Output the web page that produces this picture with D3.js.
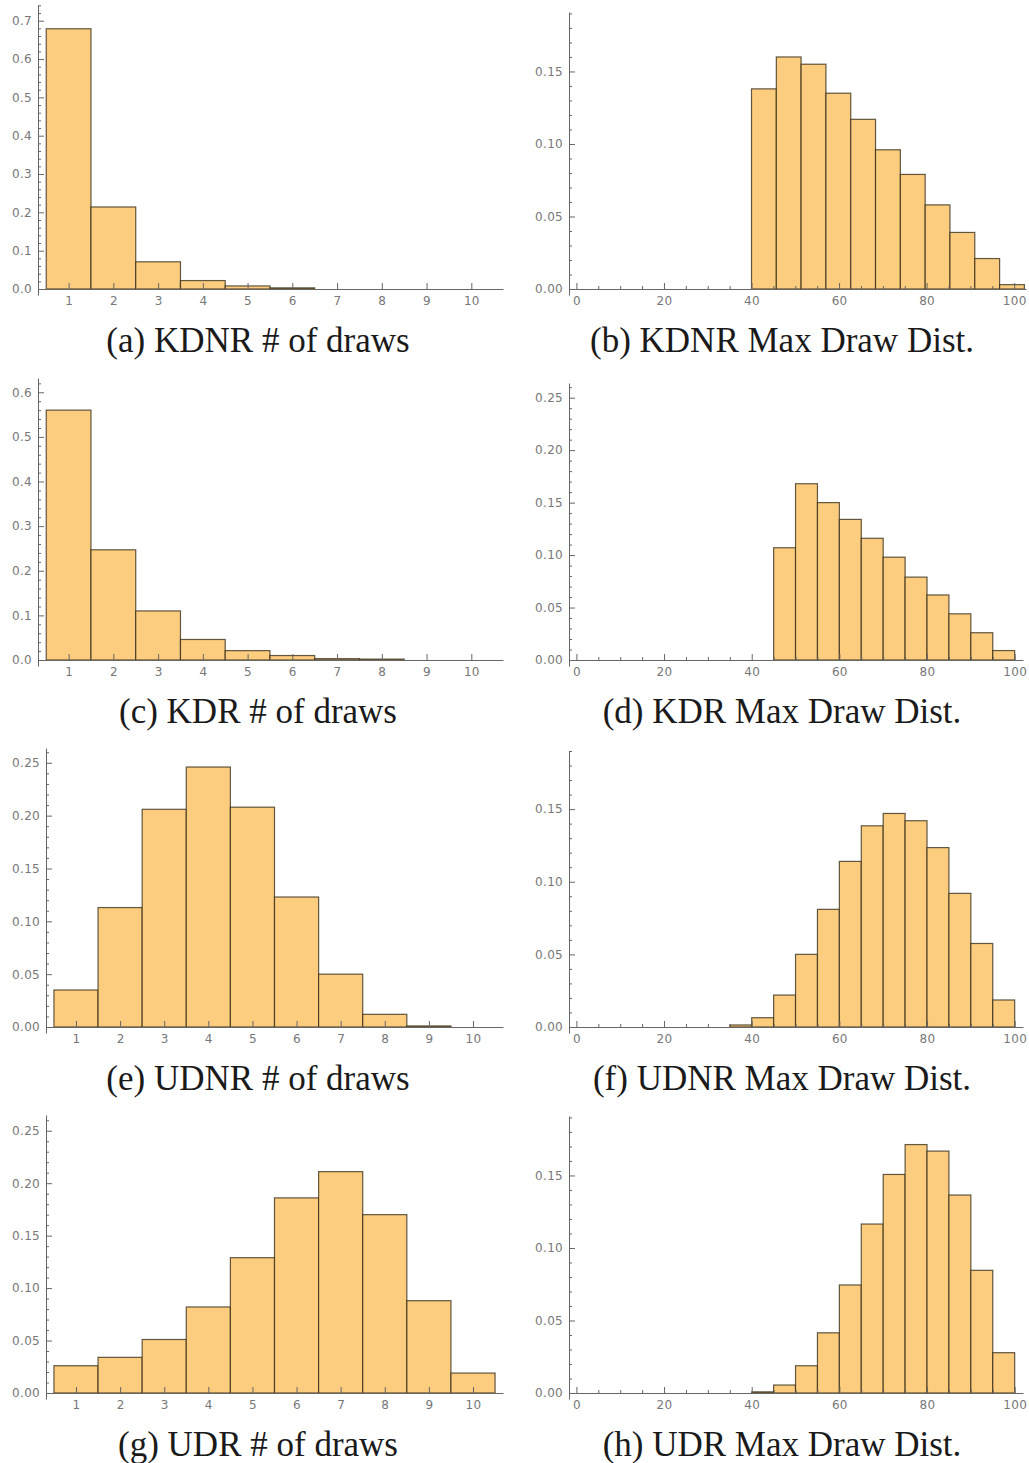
<!DOCTYPE html>
<html lang="en">
<head>
  <meta charset="utf-8">
  <script src="https://d3js.org/d3.v7.min.js"></script>
  <style>
    body { margin: 0; background: #fff; }
    .tick text { font-family: "DejaVu Sans", sans-serif; font-size: 12px; fill: #777; letter-spacing: 0.3px; }
    .domain, .tick line { stroke: #666; }
    .caption { font-family: "Liberation Serif", serif; font-size: 35px; fill: #1a1a1a; }
  </style>
</head>
<body>
<script>
  // number of draws (bins centred on 1..10)
  const draws = [1, 2, 3, 4, 5, 6, 7, 8, 9, 10];
  const kdnrDraws = [0.679, 0.214, 0.071, 0.022, 0.008, 0.003, 0, 0, 0, 0];
  const kdrDraws  = [0.560, 0.247, 0.110, 0.046, 0.021, 0.010, 0.003, 0.002, 0, 0];
  const udnrDraws = [0.035, 0.113, 0.206, 0.246, 0.208, 0.123, 0.050, 0.012, 0.001, 0];
  const udrDraws  = [0.026, 0.034, 0.051, 0.082, 0.129, 0.186, 0.211, 0.170, 0.088, 0.019];

  // max draw distance: bin edges and bin heights
  const kdnrDistEdges = [40, 45.67, 51.33, 57, 62.67, 68.33, 74, 79.67, 85.33, 91, 96.67, 102.33];
  const kdnrDist = [0.138, 0.160, 0.155, 0.135, 0.117, 0.096, 0.079, 0.058, 0.039, 0.021, 0.003];
  const kdrDistEdges = [45, 50, 55, 60, 65, 70, 75, 80, 85, 90, 95, 100];
  const kdrDist = [0.107, 0.168, 0.150, 0.134, 0.116, 0.098, 0.079, 0.062, 0.044, 0.026, 0.009];
  const udnrDistEdges = [35, 40, 45, 50, 55, 60, 65, 70, 75, 80, 85, 90, 95, 100];
  const udnrDist = [0.0014, 0.0064, 0.022, 0.050, 0.081, 0.114, 0.1385, 0.147, 0.142, 0.1235, 0.092, 0.0575, 0.0186];
  const udrDistEdges = [40, 45, 50, 55, 60, 65, 70, 75, 80, 85, 90, 95, 100];
  const udrDist = [0.0008, 0.0055, 0.0188, 0.0415, 0.0745, 0.1165, 0.1507, 0.1713, 0.1668, 0.1365, 0.0846, 0.0278];

  // tick values
  const drawTicks = [1, 2, 3, 4, 5, 6, 7, 8, 9, 10];
  const distTicks = [0, 20, 40, 60, 80, 100];
  const yTicksA = [0, 0.1, 0.2, 0.3, 0.4, 0.5, 0.6, 0.7];
  const yTicksC = [0, 0.1, 0.2, 0.3, 0.4, 0.5, 0.6];
  const yTicks15 = [0, 0.05, 0.10, 0.15];
  const yTicks25 = [0, 0.05, 0.10, 0.15, 0.20, 0.25];

  const captions = ["(a) KDNR # of draws", "(b) KDNR Max Draw Dist.",
                    "(c) KDR # of draws", "(d) KDR Max Draw Dist.",
                    "(e) UDNR # of draws", "(f) UDNR Max Draw Dist.",
                    "(g) UDR # of draws", "(h) UDR Max Draw Dist."];

  const svg = d3.select("body").append("svg")
    .attr("width", 1029).attr("height", 1463);

  // bins for the "# of draws" histograms
  function drawBins(vals) {
    return draws.map((d, i) => ({x0: d - 0.5, x1: d + 0.5, v: vals[i]}));
  }
  function distBins(edges, vals) {
    return vals.map((v, i) => ({x0: edges[i], x1: edges[i + 1], v: v}));
  }

  const panels = [
    {bars: drawBins(kdnrDraws), xTicks: drawTicks, xMinor: false, yTicks: yTicksA, yMinorStep: 0.02, fmt: ".1f",
     left: 38, right: 503, top: 5, base: 289, xDomain: [0.316, 10.708], yMax: 0.741, capX: 258, capY: 352},
    {bars: distBins(kdnrDistEdges, kdnrDist), xTicks: distTicks, xMinor: true, yTicks: yTicks15, yMinorStep: 0.01, fmt: ".2f",
     left: 569, right: 1026, top: 12, base: 289, xDomain: [-1.69, 102.7], yMax: 0.191, capX: 782, capY: 352},
    {bars: drawBins(kdrDraws), xTicks: drawTicks, xMinor: false, yTicks: yTicksC, yMinorStep: 0.02, fmt: ".1f",
     left: 38, right: 503, top: 378, base: 660, xDomain: [0.316, 10.708], yMax: 0.632, capX: 258, capY: 723},
    {bars: distBins(kdrDistEdges, kdrDist), xTicks: distTicks, xMinor: true, yTicks: yTicks25, yMinorStep: 0.01, fmt: ".2f",
     left: 569, right: 1023, top: 383, base: 660, xDomain: [-1.69, 101.9], yMax: 0.264, capX: 782, capY: 723},
    {bars: drawBins(udnrDraws), xTicks: drawTicks, xMinor: false, yTicks: yTicks25, yMinorStep: 0.01, fmt: ".2f",
     left: 46, right: 503, top: 748, base: 1027, xDomain: [0.32, 10.68], yMax: 0.264, capX: 258, capY: 1090},
    {bars: distBins(udnrDistEdges, udnrDist), xTicks: distTicks, xMinor: true, yTicks: yTicks15, yMinorStep: 0.01, fmt: ".2f",
     left: 569, right: 1023, top: 751, base: 1027, xDomain: [-1.69, 101.9], yMax: 0.190, capX: 782, capY: 1090},
    {bars: drawBins(udrDraws), xTicks: drawTicks, xMinor: false, yTicks: yTicks25, yMinorStep: 0.01, fmt: ".2f",
     left: 46, right: 503, top: 1115, base: 1393, xDomain: [0.32, 10.68], yMax: 0.265, capX: 258, capY: 1456},
    {bars: distBins(udrDistEdges, udrDist), xTicks: distTicks, xMinor: true, yTicks: yTicks15, yMinorStep: 0.01, fmt: ".2f",
     left: 569, right: 1023, top: 1116, base: 1393, xDomain: [-1.69, 101.9], yMax: 0.191, capX: 782, capY: 1456}
  ];

  function drawPanel(p, i) {
    const g = svg.append("g");
    const x = d3.scaleLinear().domain(p.xDomain).range([p.left, p.right]);
    const y = d3.scaleLinear().domain([0, p.yMax]).range([p.base, p.top]);
    // y axis runs a few pixels below zero, like the original
    y.domain([y.invert(p.base + 6), p.yMax]).range([p.base + 6, p.top]);

    // bars
    g.append("g").selectAll("rect")
      .data(p.bars.filter(d => d.v > 0))
      .join("rect")
      .attr("x", d => x(d.x0))
      .attr("width", d => x(d.x1) - x(d.x0))
      .attr("y", d => y(d.v))
      .attr("height", d => y(0) - y(d.v))
      .attr("fill", "#fccd7e")
      .attr("stroke", "#2e2614")
      .attr("stroke-opacity", 0.75)
      .attr("stroke-width", 1.2);

    // minor y ticks
    const yMinor = d3.range(0, p.yMax + 1e-9, p.yMinorStep)
      .filter(v => !p.yTicks.some(t => Math.abs(t - v) < 1e-9));
    g.append("g").attr("transform", `translate(${p.left},0)`)
      .call(d3.axisLeft(y).tickValues(yMinor).tickFormat("").tickSizeInner(-3).tickSizeOuter(0))
      .call(s => s.select(".domain").remove());

    // y axis
    g.append("g").attr("transform", `translate(${p.left},0)`)
      .call(d3.axisLeft(y).tickValues(p.yTicks).tickFormat(d3.format(p.fmt))
        .tickSizeInner(-6).tickSizeOuter(0).tickPadding(6));

    // minor x ticks (every 5 on the distance axes)
    if (p.xMinor) {
      const xMinor = d3.range(5, 100, 5).filter(v => v % 20 !== 0);
      g.append("g").attr("transform", `translate(0,${y(0)})`)
        .call(d3.axisBottom(x).tickValues(xMinor).tickFormat("").tickSizeInner(-3).tickSizeOuter(0))
        .call(s => s.select(".domain").remove());
    }

    // x axis
    g.append("g").attr("transform", `translate(0,${y(0)})`)
      .call(d3.axisBottom(x).tickValues(p.xTicks).tickFormat(d3.format("d"))
        .tickSizeInner(-6).tickSizeOuter(0).tickPadding(7));

    // caption
    g.append("text").attr("class", "caption")
      .attr("x", p.capX).attr("y", p.capY)
      .attr("text-anchor", "middle")
      .text(captions[i]);
  }

  panels.forEach(drawPanel);
</script>
</body>
</html>
